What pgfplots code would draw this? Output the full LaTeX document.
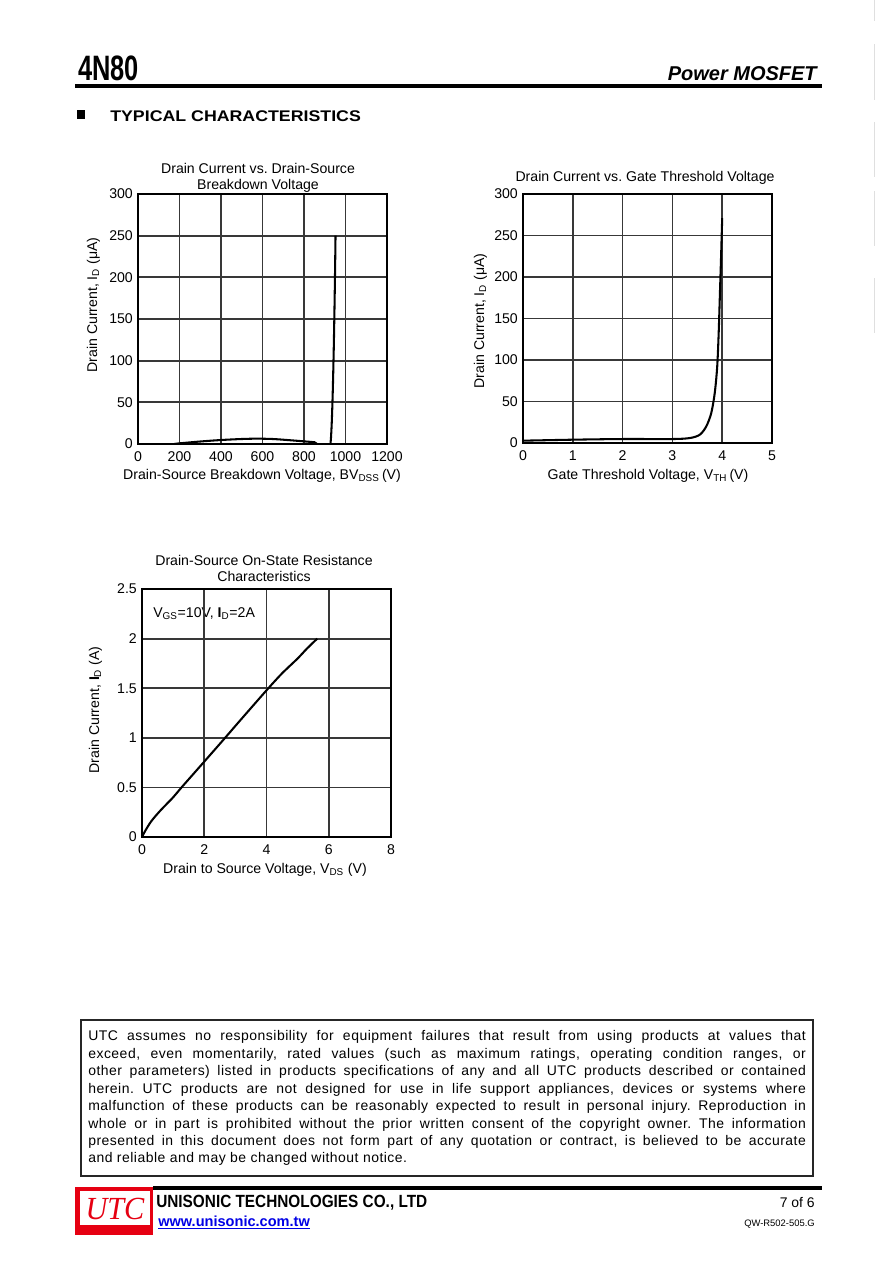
\documentclass[border=0pt]{standalone}
\usepackage{fontspec}
\setmainfont{Liberation Sans}
\newfontfamily\hdfont[FakeStretch=0.72]{Liberation Sans Bold}
\newfontfamily\secfont[FakeStretch=1.15]{Liberation Sans Bold}
\newfontfamily\cofont[FakeStretch=0.87]{Liberation Sans Bold}
\newfontfamily\discfont[LetterSpace=3.5]{Liberation Sans}
\newfontfamily\logofont{Liberation Serif Italic}
\usepackage{pgfplots}
\pgfplotsset{compat=1.18}
\frenchspacing

\definecolor{utcred}{RGB}{230,0,18}
\definecolor{linkblue}{RGB}{0,0,230}

\newcommand\chartfont{\fontsize{9.6}{11}\selectfont}
\pgfplotsset{
  sheet/.style={
    scale only axis, anchor=south west,
    grid=major,
    major grid style={black!78, line width=1.2pt},
    axis line style={line width=1.2pt},
    major tick length=0pt,
    tick label style={font=\chartfont},
    /pgf/number format/assume math mode=true,
    /pgf/number format/1000 sep={},
    xticklabel style={yshift=-1.5pt},
  },
  curve/.style={black, line width=1.4pt, no marks, smooth},
}

\begin{document}
\begin{tikzpicture}
% page layout in reference pixels (1 px = 0.68 pt, y downwards)
\begin{scope}[x=0.68pt, y=-0.68pt]
\path[use as bounding box, fill=white] (0,0) rectangle (877,1264);

% faint marks at the right edge
\foreach \a/\b in {0/21, 44/100, 122/177, 191/246, 278/333}
  \draw[gray!25, line width=0.6pt] (874,\a) -- (874,\b);

% header
\node[anchor=base west, inner sep=0] at (78,80) {\fontsize{24}{24}\hdfont 4N80};
\node[anchor=base east, inner sep=0] at (817,80) {\fontsize{13.6}{14}\selectfont\bfseries\itshape Power MOSFET};
\draw[line width=2.1pt] (75,86) -- (822,86);
\fill (77,110) rectangle (85,119);
\node[anchor=base west, inner sep=0] at (110,121) {\fontsize{10.5}{11}\secfont TYPICAL CHARACTERISTICS};

% chart texts
\node[anchor=base, inner sep=0, font=\chartfont] at (258,173) {Drain Current vs. Drain-Source};
\node[anchor=base, inner sep=0, font=\chartfont] at (258,189) {Breakdown Voltage};
\node[anchor=base, inner sep=0, font=\chartfont] at (262,479) {Drain-Source Breakdown Voltage, BV\textsubscript{DSS}\,(V)};
\node[anchor=base, inner sep=0, rotate=90, font=\chartfont] at (97,305) {Drain Current, I\textsubscript{D} (μA)};

\node[anchor=base, inner sep=0, font=\chartfont] at (645,181) {Drain Current vs. Gate Threshold Voltage};
\node[anchor=base, inner sep=0, font=\chartfont] at (648,479) {Gate Threshold Voltage, V\textsubscript{TH}\,(V)};
\node[anchor=base, inner sep=0, rotate=90, font=\chartfont] at (484,321) {Drain Current, I\textsubscript{D} (μA)};

\node[anchor=base, inner sep=0, font=\chartfont] at (264,565) {Drain-Source On-State Resistance};
\node[anchor=base, inner sep=0, font=\chartfont] at (264,581) {Characteristics};
\node[anchor=base west, inner sep=0, font=\chartfont] at (153,617.5) {V\textsubscript{GS}=10V, \textbf{I}\textsubscript{D}=2A};
\node[anchor=base, inner sep=0, font=\chartfont] at (265,873) {Drain to Source Voltage, V\textsubscript{DS} (V)};
\node[anchor=base, inner sep=0, rotate=90, font=\chartfont] at (99,710) {Drain Current, \textbf{I}\textsubscript{D} (A)};

% ---- disclaimer
\draw[line width=0.8pt, black!85] (81,1020) rectangle (813,1176);
\node[anchor=north west, inner sep=0, text width=488pt, align=justify,
  font=\fontsize{9.5}{11.85}\discfont] at (88,1030.5) {%
UTC assumes no responsibility for equipment failures that result from using products at values that\linebreak
exceed, even momentarily, rated values (such as maximum ratings, operating condition ranges, or\linebreak
other parameters) listed in products specifications of any and all UTC products described or contained\linebreak
herein. UTC products are not designed for use in life support appliances, devices or systems where\linebreak
malfunction of these products can be reasonably expected to result in personal injury. Reproduction in\linebreak
whole or in part is prohibited without the prior written consent of the copyright owner. The information\linebreak
presented in this document does not form part of any quotation or contract, is believed to be accurate\linebreak
and reliable and may be changed without notice.};

% ---- footer
\draw[line width=2.1pt] (153,1188) -- (822,1188);
\fill[utcred] (75,1187) rectangle (153,1235);
\fill[white] (79.5,1191) rectangle (149.5,1225);
\node[inner sep=0, text=utcred] at (115,1209) {\resizebox{40pt}{14.5pt}{\logofont UTC}};
\node[anchor=base west, inner sep=0] at (156,1207) {\fontsize{12}{12}\cofont UNISONIC TECHNOLOGIES CO., LTD};
\node[anchor=base west, inner sep=0, text=linkblue] at (158,1226) {\fontsize{9.9}{10}\selectfont\bfseries www.unisonic.com.tw};
\draw[linkblue, line width=0.8pt] (158,1228.5) -- (310,1228.5);
\node[anchor=base east, inner sep=0] at (815,1207) {\fontsize{9.5}{10}\selectfont 7 of 6};
\node[anchor=base east, inner sep=0] at (815,1226) {\fontsize{6.4}{7}\selectfont QW-R502-505.G};
\end{scope}

% ---- chart 1 (box 138..387 x 194..444 px)
\begin{axis}[sheet, at={(93.84pt,-301.92pt)}, width=169.3pt, height=170pt,
  xmin=0, xmax=1200, ymin=0, ymax=300,
  xtick={0,200,...,1200}, ytick={0,50,...,300}]
\addplot[curve, smooth=false] coordinates {
  (175,0) (200,0.8) (300,3) (400,4.8) (500,6) (570,6.4) (650,6) (750,4.2)
  (850,2.2) (928,1) (952,250)};
\end{axis}

% ---- chart 2 (box 523..772 x 194..443 px)
\begin{axis}[sheet, at={(355.64pt,-301.24pt)}, width=169.3pt, height=169.3pt,
  xmin=0, xmax=5, ymin=0, ymax=300,
  xtick={0,...,5}, ytick={0,50,...,300}]
\addplot[curve] coordinates {
  (0,2.8) (1,4) (2,4.8) (3,4.8) (3.35,6) (3.55,10) (3.68,20) (3.78,36)
  (3.85,60) (3.9,92) (3.93,133) (3.955,181) (3.98,229) (4.0,271)};
\end{axis}

% ---- chart 3 (box 142..391 x 589..837 px)
\begin{axis}[sheet, at={(96.56pt,-569.16pt)}, width=169.3pt, height=168.6pt,
  xmin=0, xmax=8, ymin=0, ymax=2.5,
  xtick={0,2,...,8}, ytick={0,0.5,...,2.5}]
\addplot[curve] coordinates {
  (0,0) (0.1,0.06) (0.3,0.16) (0.6,0.27) (1,0.4) (1.27,0.5) (2,0.76)
  (2.67,1.0) (3,1.12) (3.5,1.3) (4.06,1.5) (4.5,1.65) (5,1.8) (5.3,1.9) (5.63,2.0)};
\end{axis}
\end{tikzpicture}
\end{document}
